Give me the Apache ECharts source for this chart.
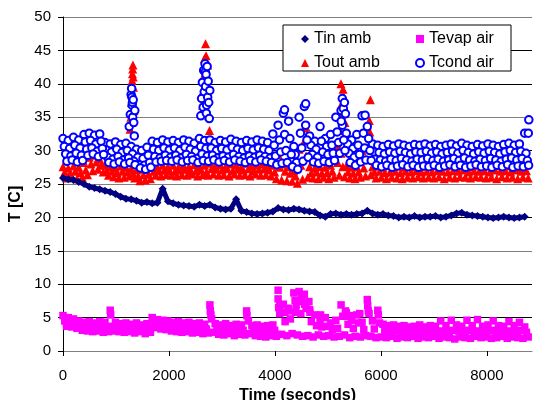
<!DOCTYPE html>
<html>
<head>
<meta charset="utf-8">
<script src="https://cdn.jsdelivr.net/npm/echarts@6/dist/echarts.min.js"></script>
<style>
  html, body { margin: 0; padding: 0; background: #fff; }
  #chart { width: 535px; height: 400px; }
</style>
</head>
<body>
<div id="chart"></div>
<script>
// one sample every 99 s; bands are read as several rows (top .. bottom of the cloud)
var sampleStep = 99;

var tinAmb = [25.9,25.7,25.6,25.3,25.0,24.6,24.4,24.2,24.0,23.8,
  23.5,23.1,22.8,22.7,22.5,22.2,22.3,22.1,22.2,24.3,
  22.4,22.1,21.9,21.8,21.7,21.6,21.9,21.7,21.9,21.5,
  21.3,21.2,21.3,22.7,21.0,20.8,20.6,20.5,20.6,20.7,
  20.9,21.4,21.2,21.1,21.3,21.2,21.0,20.9,20.8,20.3,
  20.1,20.5,20.6,20.4,20.5,20.4,20.5,20.6,21.0,20.6,
  20.4,20.5,20.3,20.2,20.0,20.1,20.0,20.2,20.0,20.1,
  20.1,20.2,20.0,20.1,20.3,20.6,20.7,20.4,20.3,20.2,
  20.1,20.0,19.9,20.0,20.1,20.0,19.9,20.0,20.1];

// Tcond air: four rows, top to bottom
var tcondA = [31.8,31.5,32.0,31.6,32.4,32.6,32.3,32.5,31.2,31.0,
  31.3,30.9,31.1,30.6,30.2,30.0,30.5,31.4,31.2,31.6,
  31.3,31.5,31.2,31.6,31.4,31.1,31.8,31.5,31.6,31.2,
  31.5,31.3,31.7,31.4,31.2,31.5,31.3,31.6,31.4,31.2,
  32.5,33.8,35.6,34.4,30.6,35.0,36.6,32.2,31.4,33.6,
  31.8,32.4,35.0,36.0,32.6,31.6,32.4,35.2,33.6,31.0,
  30.8,30.6,30.9,30.7,31.0,30.8,30.6,30.9,30.8,31.0,
  30.7,30.9,30.6,30.8,31.0,30.7,31.1,30.8,30.6,30.9,
  30.7,31.0,30.8,30.6,30.9,31.1,30.8,31.0,32.6];
var tcondB = [30.6,30.3,30.8,30.4,31.3,31.5,31.0,31.4,30.1,29.8,
  30.2,29.7,30.0,29.5,29.0,28.8,29.3,30.2,30.0,30.4,
  30.1,30.4,30.0,30.5,30.2,29.9,30.6,30.3,30.4,30.0,
  30.3,30.1,30.5,30.2,30.0,30.3,30.1,30.4,30.2,30.0,
  30.8,31.6,32.4,31.8,29.4,32.6,33.8,30.8,30.2,31.4,
  30.6,30.8,32.8,33.8,31.0,30.3,30.8,32.6,31.8,29.8,
  29.7,29.5,29.8,29.6,29.9,29.7,29.5,29.8,29.7,29.9,
  29.6,29.8,29.5,29.7,29.9,29.6,30.0,29.7,29.5,29.8,
  29.6,29.9,29.7,29.5,29.8,30.0,29.7,29.9,29.6];
var tcondC = [29.5,29.2,29.6,29.3,30.2,30.4,29.9,30.3,29.0,28.7,
  29.1,28.6,28.9,28.4,27.9,27.8,28.2,29.1,28.9,29.3,
  29.0,29.3,28.9,29.4,29.1,28.8,29.5,29.2,29.3,28.9,
  29.2,29.0,29.4,29.1,28.9,29.2,29.0,29.3,29.1,28.9,
  29.2,29.8,30.0,29.4,28.2,30.4,31.6,29.4,29.0,29.8,
  29.4,29.6,31.2,31.6,29.6,29.0,29.4,30.4,30.0,28.7,
  28.6,28.4,28.7,28.5,28.8,28.6,28.4,28.7,28.6,28.8,
  28.5,28.7,28.4,28.6,28.8,28.5,28.9,28.6,28.4,28.7,
  28.5,28.8,28.6,28.4,28.7,28.9,28.6,28.8,28.5];
var tcondD = [28.4,28.6,28.3,28.5,29.3,29.5,29.1,29.4,28.2,28.0,
  28.3,28.0,28.2,27.9,27.4,27.2,27.5,28.3,28.4,28.5,
  28.4,28.6,28.3,28.5,28.6,28.2,28.5,28.4,28.6,28.3,
  28.5,28.3,28.6,28.4,28.2,28.5,28.3,28.6,28.4,28.2,
  27.9,28.1,28.2,27.6,27.2,28.4,29.0,28.3,28.1,28.4,
  28.2,28.5,29.6,30.0,28.2,27.8,28.3,28.6,28.5,27.8,
  27.6,27.8,27.5,27.7,27.9,27.6,27.8,27.5,27.7,27.6,
  27.8,27.5,27.7,27.9,27.6,27.8,27.5,27.7,27.9,27.6,
  27.7,27.5,27.8,27.6,27.9,27.5,27.7,27.6,27.8];
var tcondSpikes = [[1250,33.6],[1270,35.4],[1285,38.4],[1295,39.3],[1300,38.0],[1305,36.8],
  [1310,37.2],[1315,35.0],[1325,37.6],[1335,34.2],[1345,32.2],[1355,36.0],
  [2600,35.2],[2615,37.8],[2630,40.2],[2645,36.5],[2655,42.0],[2665,38.8],[2680,43.0],
  [2685,41.8],[2690,39.6],[2700,41.4],[2705,35.6],[2710,36.8],[2720,42.6],[2730,38.0],
  [2740,40.4],[2750,37.2],[2760,34.8],[2770,39.0],
  [4180,36.1],[4580,37.0],[5250,34.4],[5270,37.8],[5290,36.3],[5310,37.2],[5330,35.5],
  [5700,35.3],[8780,32.6],[8790,34.6]];

// Tout amb: three rows, top to bottom
var toutA = [27.6,27.4,27.7,27.5,28.2,29.0,29.3,28.7,27.9,27.6,
  27.4,27.7,27.5,27.3,27.1,27.2,27.6,27.7,27.5,27.8,
  27.6,27.8,27.5,27.7,27.6,27.9,27.6,27.8,28.1,27.7,
  27.9,27.6,28.0,27.8,27.6,28.1,27.7,27.9,28.0,27.6,
  27.8,29.4,28.0,27.6,27.0,30.2,33.4,27.6,27.4,27.6,
  27.5,27.8,30.6,29.6,27.7,27.5,27.6,30.0,33.8,27.6,
  27.7,27.5,27.8,27.6,27.7,27.5,27.8,27.6,27.9,27.7,
  27.6,27.8,27.9,27.7,27.8,27.6,27.9,27.7,27.6,27.8,
  27.7,27.9,27.6,27.8,27.9,27.7,27.8,27.6,27.8];
var toutB = [26.8,26.6,26.9,26.7,27.1,28.0,28.3,27.8,27.0,26.9,
  26.7,26.9,26.8,26.6,26.2,26.4,26.5,26.9,27.0,27.1,
  27.0,26.9,27.1,27.2,26.9,27.0,27.1,26.8,27.3,27.2,
  27.1,27.3,27.0,27.2,27.1,27.3,27.0,27.2,27.3,27.1,
  26.8,27.5,26.9,26.6,26.2,27.8,29.2,26.7,26.8,26.6,
  26.7,26.9,28.2,27.6,26.8,26.6,26.8,27.4,30.8,26.8,
  26.9,26.7,26.8,26.9,26.7,26.9,26.8,27.0,26.8,26.9,
  26.8,27.0,26.9,26.8,27.0,26.9,27.1,26.8,27.0,26.9,
  27.0,26.8,27.1,26.9,27.0,26.8,27.1,26.9,27.0];
var toutC = [25.9,26.1,25.8,26.0,26.4,27.0,27.2,26.8,26.3,26.1,
  25.9,26.0,26.2,25.9,25.5,25.6,25.8,26.3,26.2,26.4,
  26.3,26.2,26.4,26.3,26.5,26.2,26.4,26.3,26.5,26.3,
  26.4,26.2,26.5,26.3,26.4,26.2,26.5,26.3,26.4,26.2,
  25.8,25.6,25.5,25.4,25.1,25.7,26.0,25.9,25.8,26.0,
  25.8,26.0,26.3,26.1,25.9,25.8,26.0,26.2,26.4,25.9,
  26.0,25.8,26.0,25.9,25.8,26.0,25.9,26.1,25.9,26.0,
  25.9,26.1,25.8,26.0,25.9,26.1,26.0,25.9,26.1,26.0,
  25.9,26.0,25.8,26.1,25.9,26.0,25.8,26.0,25.9];
var toutSpikes = [[1265,33.2],[1280,35.0],[1290,37.2],[1300,38.8],[1305,40.5],[1310,41.5],
  [1315,42.2],[1320,42.8],[1325,41.0],[1330,39.5],[1340,36.0],[1350,30.2],
  [2610,35.5],[2625,38.6],[2635,36.8],[2640,40.8],[2650,42.5],[2660,39.0],[2670,43.8],
  [2680,41.6],[2690,46.0],[2700,44.2],[2705,38.4],[2710,40.2],[2720,37.4],[2730,42.8],
  [2745,35.2],[2765,33.0],
  [4560,31.5],[4580,33.6],[4600,32.2],
  [5180,30.8],[5230,33.0],[5245,40.0],[5250,35.4],[5260,37.0],[5285,39.2],[5300,38.0],
  [5310,36.5],[5320,34.2],[5340,32.0],[5360,31.0],
  [5780,34.5],[5790,32.8],[5800,37.6],[5810,31.0]];

// Tevap air: three rows, top to bottom
var tevapA = [5.3,5.0,4.8,4.5,4.3,4.4,4.2,4.4,4.3,6.1,
  4.3,4.1,4.2,4.0,4.2,3.9,4.1,5.0,4.7,4.6,
  4.5,4.3,4.4,4.2,4.3,4.1,4.2,4.0,6.9,4.1,
  3.9,4.1,3.8,4.0,3.9,6.0,3.8,3.9,3.7,3.8,
  3.9,9.1,7.0,6.4,8.7,8.9,8.5,6.2,5.4,4.6,
  5.0,4.2,4.6,6.9,5.7,4.6,5.4,4.3,7.7,4.5,
  6.1,4.0,3.8,3.9,3.7,3.8,3.6,3.7,3.9,3.6,
  3.8,3.7,4.5,3.8,4.6,3.9,3.7,4.6,3.8,4.7,
  3.7,3.9,4.5,3.8,3.7,4.4,3.8,4.3,3.6];
var tevapB = [4.5,4.3,4.1,3.7,3.6,3.7,3.5,3.6,3.5,3.7,
  3.6,3.4,3.5,3.3,3.5,3.2,3.4,4.2,4.0,3.9,
  3.7,3.6,3.7,3.5,3.6,3.4,3.5,3.3,4.8,3.3,
  3.1,3.3,3.0,3.2,3.1,4.5,3.0,3.1,2.9,3.0,
  3.1,6.8,4.4,4.8,5.8,5.6,6.4,4.4,3.8,3.6,
  3.7,3.2,3.4,5.2,4.0,3.4,4.2,3.2,5.6,3.3,
  4.2,3.0,2.9,3.0,2.8,2.9,2.8,2.9,3.0,2.8,
  2.9,2.8,3.0,2.9,3.1,3.0,2.8,3.1,2.9,3.0,
  2.8,3.0,3.1,2.9,2.8,3.0,2.9,3.1,2.8];
var tevapC = [3.7,3.6,3.4,3.1,3.0,2.9,3.0,2.8,2.9,3.0,
  2.9,2.8,2.9,2.7,2.9,2.6,2.8,3.5,3.3,3.2,
  3.0,2.9,2.8,2.9,2.7,2.8,2.6,2.7,2.8,2.5,
  2.4,2.6,2.3,2.5,2.4,2.6,2.3,2.2,2.1,2.3,
  2.2,2.5,2.3,2.6,2.4,2.2,2.3,2.1,2.4,2.2,
  2.3,2.1,2.2,2.4,2.0,2.2,2.1,2.3,2.2,2.0,
  2.1,2.0,2.2,1.9,2.1,2.0,2.2,1.9,2.1,2.0,
  2.2,1.9,2.1,2.0,1.8,2.1,2.0,1.9,2.2,2.0,
  2.1,1.9,2.0,2.2,1.9,2.1,2.0,1.9,2.1];
var tevapSpikes = [[900,5.4],[2780,6.0],[2790,5.4],[3470,5.3],[4059,7.8],[4070,6.5],
  [4090,5.6],[4180,5.8],[4250,6.0],[4380,7.6],[4400,6.8],[4470,7.4],[4500,8.0],
  [4560,7.0],[4640,7.4],[4660,5.8],[4860,5.4],[5330,6.0],[5350,5.2],[5430,5.3],
  [5600,5.6],[5750,6.8],[5760,6.0],[5950,5.4]];

var yTicks = [0, 5, 10, 15, 20, 25, 30, 35, 40, 45, 50];
var xTicks = [0, 2000, 4000, 6000, 8000];

function toPoints(rows, offsets, extra) {
  var pts = [];
  rows.forEach(function(row, r) {
    row.forEach(function(v, i) {
      pts.push([i * sampleStep + offsets[r], v]);
    });
  });
  return extra ? pts.concat(extra) : pts;
}

var tinData = tinAmb.map(function(v, i) { return [i * sampleStep, v]; });

var myChart = echarts.init(document.getElementById('chart'));
var font = 'Liberation Sans, Arial, sans-serif';
var legendText = { fontSize: 16, color: '#000', fontFamily: font };

var option = {
  animation: false,
  textStyle: { fontFamily: font },
  grid: { left: 63, right: 3, top: 17, bottom: 49, outerBoundsMode: 'none', containLabel: false },
  xAxis: {
    type: 'value',
    min: 0,
    max: 8850,
    interval: 2000,
    name: 'Time (seconds)',
    nameLocation: 'middle',
    nameGap: 31,
    nameTextStyle: { fontSize: 16, fontWeight: 'bold', color: '#000', fontFamily: font },
    axisLine: { lineStyle: { color: '#808080', width: 1 } },
    axisTick: { show: true, length: 5, lineStyle: { color: '#000' } },
    axisLabel: {
      fontSize: 15, color: '#000', margin: 17, fontFamily: font,
      showMaxLabel: false,
      formatter: function(v) { return xTicks.indexOf(v) >= 0 ? String(v) : ''; }
    },
    splitLine: { show: false }
  },
  yAxis: {
    type: 'value',
    min: 0,
    max: 50,
    interval: 5,
    name: 'T [C]',
    nameLocation: 'middle',
    nameGap: 33,
    nameTextStyle: { fontSize: 16, fontWeight: 'bold', color: '#000', fontFamily: font, padding: [0, 40, 0, 0] },
    axisLine: { show: true, lineStyle: { color: '#000', width: 1 } },
    axisTick: { show: true, length: 5, lineStyle: { color: '#000' } },
    axisLabel: {
      fontSize: 15, color: '#000', margin: 12, fontFamily: font,
      formatter: function(v) { return yTicks.indexOf(v) >= 0 ? String(v) : ''; }
    },
    splitLine: {
      show: true,
      lineStyle: { color: ['#808080', '#000', '#000', '#808080', '#000', '#808080', '#000', '#808080', '#000', '#000', '#808080'], width: 1 }
    }
  },
  legend: [
    {
      selectedMode: false,
      orient: 'vertical',
      left: 301,
      top: 31,
      padding: 0,
      itemWidth: 8,
      itemHeight: 8,
      itemGap: 8,
      z: 5,
      textStyle: legendText,
      data: [{ name: 'Tin amb', icon: 'diamond' }, { name: 'Tout amb', icon: 'triangle' }]
    },
    {
      selectedMode: false,
      orient: 'vertical',
      left: 415,
      top: 31,
      padding: 0,
      itemWidth: 8,
      itemHeight: 8,
      itemGap: 8,
      z: 5,
      textStyle: legendText,
      data: [{ name: 'Tevap air', icon: 'rect' }, { name: 'Tcond air', icon: 'emptyCircle' }]
    }
  ],
  graphic: [
    {
      type: 'rect',
      z: 4,
      shape: { x: 283, y: 25, width: 228, height: 46 },
      style: { fill: '#fff', stroke: '#000', lineWidth: 1 }
    }
  ],
  series: [
    {
      name: 'Tin amb',
      type: 'line',
      data: tinData,
      symbol: 'diamond',
      symbolSize: 8,
      showSymbol: true,
      itemStyle: { color: '#000080' },
      lineStyle: { color: '#000080', width: 5 }
    },
    {
      name: 'Tevap air',
      type: 'scatter',
      data: toPoints([tevapA, tevapB, tevapC], [0, 33, 66], tevapSpikes),
      symbol: 'rect',
      symbolSize: 7.5,
      itemStyle: { color: '#ff00ff', opacity: 1 }
    },
    {
      name: 'Tout amb',
      type: 'scatter',
      data: toPoints([toutA, toutB, toutC], [0, 33, 66], toutSpikes),
      symbol: 'triangle',
      symbolSize: 9,
      itemStyle: { color: '#ff0000', opacity: 1 }
    },
    {
      name: 'Tcond air',
      type: 'scatter',
      data: toPoints([tcondA, tcondB, tcondC, tcondD], [0, 25, 50, 74], tcondSpikes),
      symbol: 'emptyCircle',
      symbolSize: 7.5,
      itemStyle: { color: '#0000ff', borderWidth: 1.4, opacity: 1 }
    }
  ]
};

myChart.setOption(option);
</script>
</body>
</html>
